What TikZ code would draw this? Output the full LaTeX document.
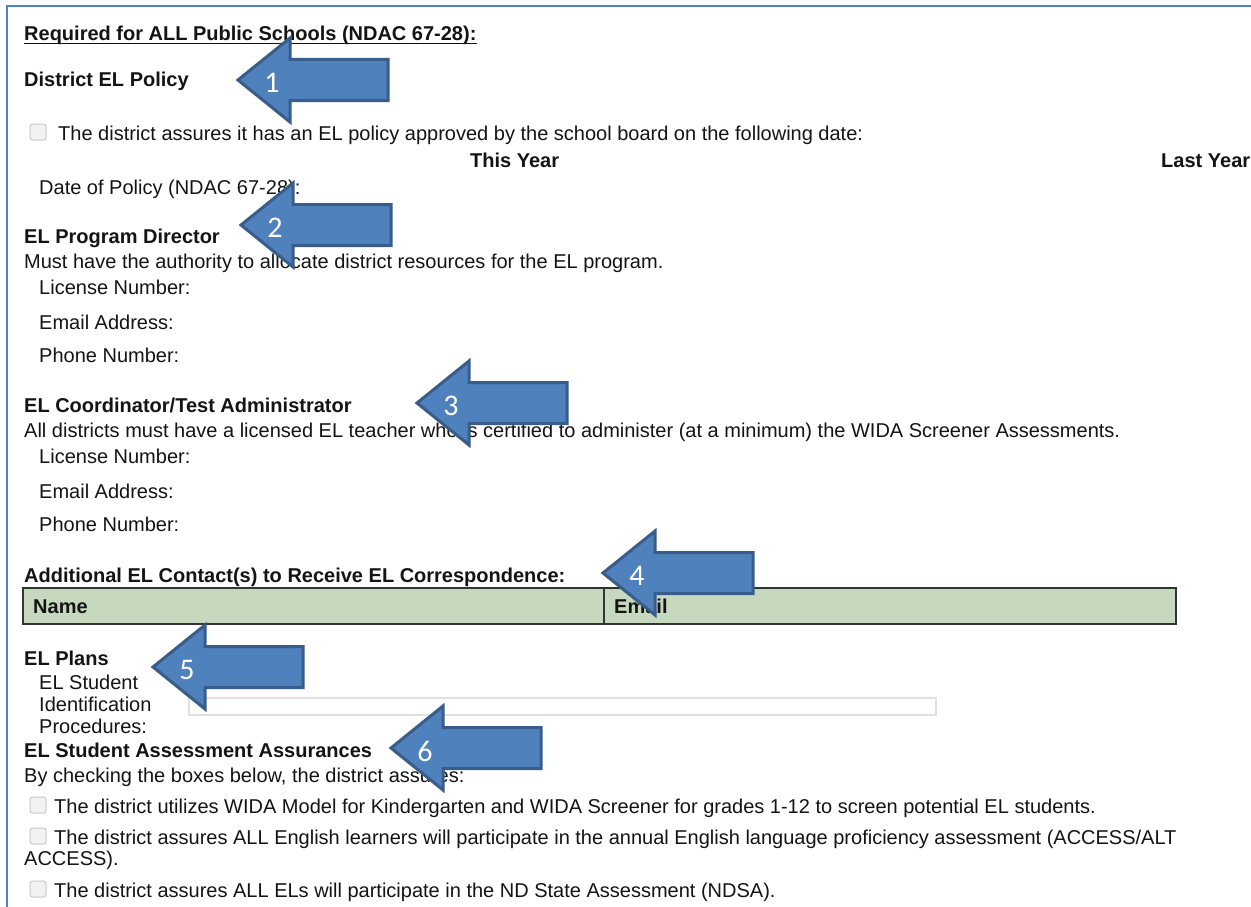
\documentclass[tikz,border=0pt]{standalone}
\usepackage{fontspec}
\setmainfont{Liberation Sans}
\newfontfamily\numfont{Carlito}
\definecolor{txtcol}{HTML}{141414}
\definecolor{framecol}{HTML}{4F81C6}
\definecolor{arrfill}{HTML}{4F81BD}
\definecolor{arredge}{HTML}{385D8A}
\definecolor{tabfill}{HTML}{C6D9BE}
\definecolor{boxedge}{HTML}{C9C9C9}
\tikzset{
  txt/.style={anchor=base west, inner sep=0pt, text=txtcol, font=\fontsize{20}{24}\selectfont},
  btxt/.style={txt, font=\fontsize{20}{24}\selectfont\bfseries},
  chk/.style={draw=boxedge, fill=black!5, rounded corners=2.5pt, line width=1pt},
  arr/.style={fill=arrfill, draw=arredge, line width=3pt, line join=miter},
  arrnum/.style={inner sep=0pt, text=white, font=\fontsize{30}{32}\numfont},
}
\newcommand\ELarrow[4]{%
  \draw[arr] (#2,#3) -- ++(52,-42) -- ++(0,21.5) -- ++(98,0) -- ++(0,41) -- ++(-98,0) -- ++(0,21.5) -- cycle;
  \node[arrnum] (#1) at (#2+34,#3+3) {#4};
}
\begin{document}
\begin{tikzpicture}[x=1pt,y=-1pt]
\useasboundingbox (0,0) rectangle (1251,907);
\fill[white] (0,0) rectangle (1251,907);
% frame
\draw[framecol, line width=2pt] (7,907) -- (7,6) -- (1251,6);

% section 1
\node[btxt] (hdr) at (24,41) {Required for ALL Public Schools (NDAC 67-28):};
\draw[txtcol, line width=1.2pt] ([yshift=-2.5pt]hdr.base west) -- ([yshift=-2.5pt]hdr.base east);
\node[btxt] (policy) at (24,87) {District EL Policy};
\path[chk] (30,124) rectangle (46,140);
\node[txt] (assure) at (58,140) {The district assures it has an EL policy approved by the school board on the following date:};
\node[btxt] (thisyear) at (470,167) {This Year};
\node[btxt] (lastyear) at (1161,167) {Last Year};
\node[txt] (date) at (39,194) {Date of Policy (NDAC 67-28):};

% section 2
\node[btxt] (dir) at (24,243) {EL Program Director};
\node[txt] (dirnote) at (24,268) {Must have the authority to allocate district resources for the EL program.};
\node[txt] (lic1) at (39,294) {License Number:};
\node[txt] (mail1) at (39,329) {Email Address:};
\node[txt] (ph1) at (39,362) {Phone Number:};

% section 3
\node[btxt] (coord) at (24,412) {EL Coordinator/Test Administrator};
\node[txt] (coordnote) at (24,437) {All districts must have a licensed EL teacher who is certified to administer (at a minimum) the WIDA Screener Assessments.};
\node[txt] (lic2) at (39,463) {License Number:};
\node[txt] (mail2) at (39,498) {Email Address:};
\node[txt] (ph2) at (39,531) {Phone Number:};

% section 4
\node[btxt] (addl) at (24,582) {Additional EL Contact(s) to Receive EL Correspondence:};
\path[fill=tabfill, draw=black!80, line width=1.5pt] (23,588) rectangle (1176,624);
\draw[black!80, line width=1.5pt] (604,588) -- (604,624);
\node[btxt] (name) at (33,613) {Name};
\node[btxt] (email) at (614,613) {Email};

% section 5
\node[btxt] (plans) at (24,665) {EL Plans};
\node[txt] (st1) at (39,689) {EL Student};
\node[txt] (st2) at (39,711) {Identification};
\node[txt] (st3) at (39,733) {Procedures:};
\path[draw=black!12, line width=1.2pt, fill=white] (189,698) rectangle (936,715);

% section 6
\node[btxt] (assess) at (24,757) {EL Student Assessment Assurances};
\node[txt] (bycheck) at (24,782) {By checking the boxes below, the district assures:};
\path[chk] (30,797) rectangle (46,813);
\node[txt] (a1) at (54,813) {The district utilizes WIDA Model for Kindergarten and WIDA Screener for grades 1-12 to screen potential EL students.};
\path[chk] (30,828) rectangle (46,844);
\node[txt] (a2) at (54,844) {The district assures ALL English learners will participate in the annual English language proficiency assessment (ACCESS/ALT};
\node[txt] (a2b) at (24,865) {ACCESS).};
\path[chk] (30,881) rectangle (46,897);
\node[txt] (a3) at (54,897) {The district assures ALL ELs will participate in the ND State Assessment (NDSA).};

% arrows
\ELarrow{n1}{238}{80}{1}
\ELarrow{n2}{241}{225}{2}
\ELarrow{n3}{417}{403}{3}
\ELarrow{n4}{603}{573}{4}
\ELarrow{n5}{153}{667}{5}
\ELarrow{n6}{391}{748}{6}
\end{tikzpicture}
\end{document}
